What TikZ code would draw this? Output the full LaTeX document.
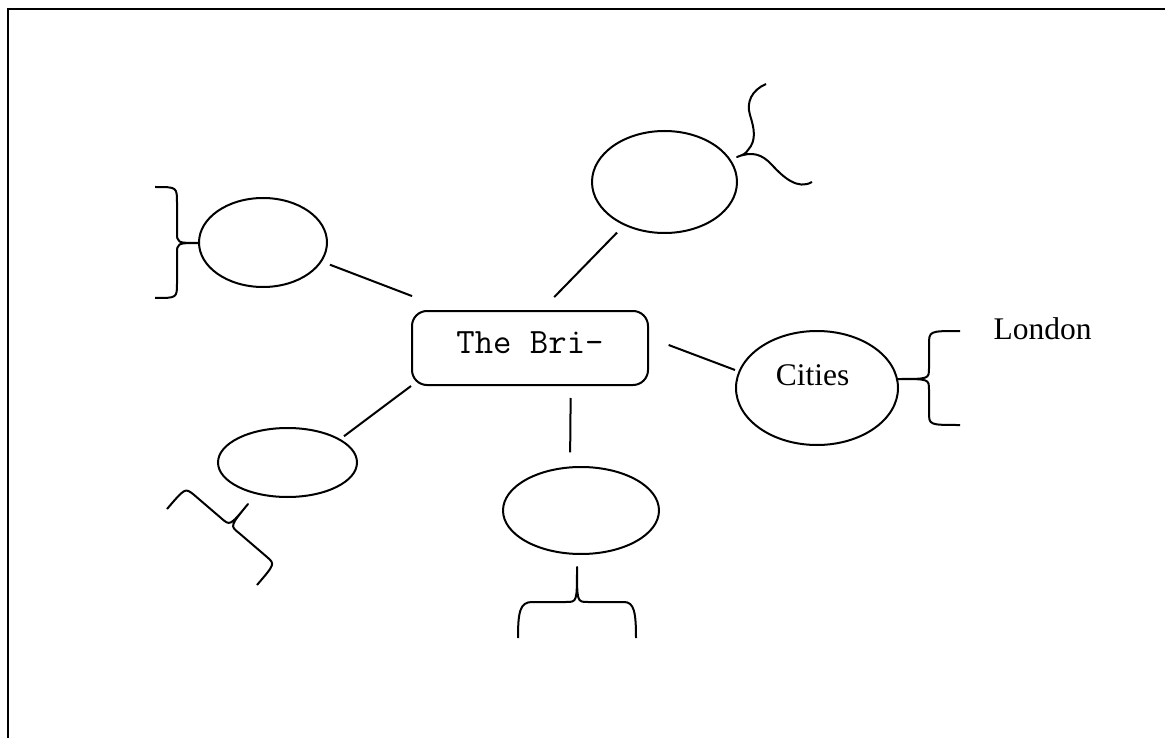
\documentclass[tikz,border=0pt]{standalone}
\usepackage{fontspec}
\setmainfont{Liberation Serif}
\usetikzlibrary{shapes.geometric}

\tikzset{
  bubble/.style={draw, ellipse, line width=2pt, inner sep=0pt},
  hubbox/.style={draw, rectangle, rounded corners=15pt, line width=2pt,
    minimum width=236pt, minimum height=74pt, inner sep=0pt,
    text height=42pt, text depth=32pt,
    font=\ttfamily\fontsize{35.7}{40}\selectfont},
  link/.style={line width=2pt},
  curl/.style={line width=2pt, line join=round},
  word/.style={inner sep=0pt, font=\fontsize{31.5}{36}\selectfont},
}

\begin{document}
\begin{tikzpicture}[x=1pt, y=-1pt]
  \useasboundingbox (0,0) rectangle (1165,738);

  % page frame
  \draw[line width=2.4pt] (8,738) -- (8,9) -- (1165,9);

  % centre box and bubbles
  \node[hubbox] (hub) at (530,348) {The Bri-};
  \node[bubble, minimum width=128pt, minimum height=89pt] (nw) at (263,242.5) {};
  \node[bubble, minimum width=145pt, minimum height=102pt] (ne) at (664.5,182) {};
  \node[bubble, minimum width=162pt, minimum height=114pt] (east) at (817,388) {};
  \node[bubble, minimum width=139pt, minimum height=69pt] (sw) at (287.5,462.5) {};
  \node[bubble, minimum width=156pt, minimum height=87pt] (south) at (581,510.5) {};

  \node[word, anchor=base] (citiesword) at (812.5,385) {Cities};
  \node[word, anchor=base] (londonword) at (1042.5,339) {London};

  % links to the centre
  \draw[link, shorten <=8.5pt, shorten >=39pt] (nw.-18) -- (hub.155);
  \draw[link, shorten <=10pt, shorten >=18pt] (ne.-133) -- (hub.73);
  \draw[link, shorten <=21pt, shorten >=3.7pt] (hub.5) -- (east.168);
  \draw[link, shorten >=4.6pt] (hub.south west) -- (sw.24);
  \draw[link, shorten <=12pt, shorten >=14pt] (hub.-43) -- (south.104);

  % braces
  \draw[curl] (155,187) .. controls (177,187) .. (177,203) -- (177,232)
    .. controls (177,243) .. (199,243) .. controls (177,243) .. (177,254)
    -- (177,283) .. controls (177,298) .. (155,298);
  \draw[curl] (766,84) .. controls (752,90) and (746,102) .. (750,115)
    .. controls (754,128) and (757,140) .. (748,150) .. controls (745,154) .. (737,157)
    .. controls (752,151) and (762,154) .. (772,165)
    .. controls (784,178) and (798,190) .. (812,182);
  \draw[curl] (960,331) .. controls (929,331) .. (929,345) -- (929,368)
    .. controls (929,379) .. (898,379) .. controls (929,379) .. (929,390)
    -- (929,412) .. controls (929,425) .. (960,425);
  \draw[curl] (167,509) .. controls (185,488) .. (193,494) -- (221,518)
    .. controls (230,526) .. (248,504) .. controls (230,526) .. (239,533)
    -- (267,557) .. controls (275,564) .. (257,585);
  \draw[curl] (518,638) .. controls (518,612) and (520,602) .. (532,602) -- (566,602)
    .. controls (577,602) .. (577,567) .. controls (577,602) .. (588,602)
    -- (624,602) .. controls (634,602) and (636,612) .. (636,638);
\end{tikzpicture}
\end{document}
